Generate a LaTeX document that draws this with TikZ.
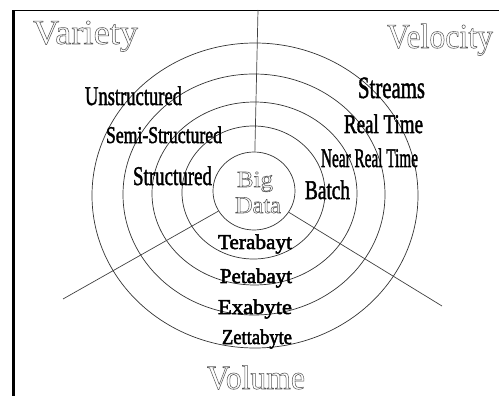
\documentclass[tikz,border=0pt]{standalone}
\usepackage{fontspec}
\setmainfont{Liberation Serif}
\usetikzlibrary{shapes.geometric}
\newcommand\hollowtxt[1]{\special{pdf:literal direct 1 Tr 0.55 w 0.35 G}#1\special{pdf:literal direct 0 Tr}}
\newcommand\heavytxt[1]{\special{pdf:literal direct 2 Tr 0.5 w 0 G}#1\special{pdf:literal direct 0 Tr}}
\newcommand\fitw[3]{\resizebox{#1pt}{\height}{\fontsize{#2}{#2}\selectfont #3}}
\tikzset{
  ring/.style={ellipse, draw=black!80, line width=0.7pt, inner sep=0pt},
  lbl/.style={anchor=base west, inner sep=0pt, outer sep=0pt},
  spoke/.style={draw=black!75, line width=0.7pt},
}
\begin{document}
\begin{tikzpicture}[x=1pt,y=-1pt]
\useasboundingbox (0,0) rectangle (499,396);
% frame
\draw[line width=2.5pt] (13.5,396) -- (13.5,10);
\draw[line width=1.7pt] (12.3,10.5) -- (499,10.5);
% rings
\node[ring, minimum width=326pt, minimum height=305pt] (r5) at (255,195.5) {};
\node[ring, minimum width=262pt, minimum height=241pt] (r4) at (254,194.5) {};
\node[ring, minimum width=205pt, minimum height=183pt] (r3) at (254.5,193.5) {};
\node[ring, minimum width=143pt, minimum height=133pt] (r2) at (253.5,192.5) {};
\node[ring, minimum width=82pt, minimum height=78pt] (r1) at (254,191) {};
% spokes
\coordinate (topend) at (258,10);
\coordinate (leftend) at (63,299);
\coordinate (rightend) at (442,306);
\draw[spoke] (r1) -- (topend);
\draw[spoke] (r1) -- (leftend);
\draw[spoke] (r1) -- (rightend);
% titles
\node[lbl] (variety) at (33,44) {\fitw{105}{35}{\hollowtxt{Variety}}};
\node[lbl] (velocity) at (387,48) {\fitw{106}{35}{\hollowtxt{Velocity}}};
\node[lbl] (volume) at (207,389) {\raisebox{0pt}[\height][0pt]{\fitw{98}{34}{\hollowtxt{Volume}}}};
\node[lbl] (big) at (237,187) {\fitw{36}{23}{\hollowtxt{Big}}};
\node[lbl] (data) at (235,213) {\fitw{46}{24}{\hollowtxt{Data}}};
% variety labels
\node[lbl] (unstr) at (85,105) {\fitw{97}{27}{\heavytxt{Unstructured}}};
\node[lbl] (semi) at (106,143) {\fitw{116}{24}{\heavytxt{Semi-Structured}}};
\node[lbl] (str) at (133,185) {\fitw{79}{27}{\heavytxt{Structured}}};
% velocity labels
\node[lbl] (streams) at (358,98) {\fitw{67}{31}{\heavytxt{Streams}}};
\node[lbl] (rt) at (344,133) {\fitw{79}{27}{\heavytxt{Real Time}}};
\node[lbl] (nrt) at (321,167) {\fitw{97}{27}{\heavytxt{Near Real Time}}};
\node[lbl] (batch) at (305,199) {\fitw{45}{27}{\heavytxt{Batch}}};
% volume labels
\node[lbl] (tera) at (218,249) {\fitw{74}{21}{\heavytxt{Terabayt}}};
\node[lbl] (peta) at (220,283) {\fitw{72}{21}{\heavytxt{Petabayt}}};
\node[lbl] (exa) at (218,314) {\fitw{74}{21}{\heavytxt{Exabyte}}};
\node[lbl] (zetta) at (222,344) {\fitw{70}{21}{\heavytxt{Zettabyte}}};
\end{tikzpicture}
\end{document}
